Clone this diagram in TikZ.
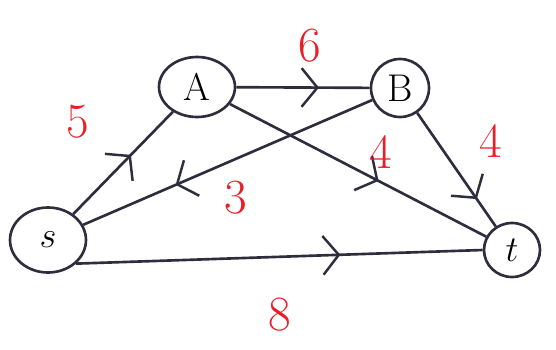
\documentclass[tikz,border=0pt]{standalone}
\usepackage{amsmath}
\usepackage{tikz}
\usetikzlibrary{positioning,shapes.geometric,arrows.meta,decorations.markings}

\definecolor{ink}{RGB}{45,45,62}
\definecolor{pen}{RGB}{232,30,40}

\begin{document}
\begin{tikzpicture}[x=1cm,y=1cm,
		vertex/.style={draw=ink, line width=1.5pt, ellipse, inner sep=0pt, font=\fontsize{22}{24}\selectfont},
		flow/.style={draw=ink, line width=1.5pt, postaction={decorate},
			decoration={markings, mark=at position #1 with {\arrow[ink, line width=1.4pt]{Straight Barb[length=9pt, width=22pt]}}}},
		flow/.default=0.55,
		weight/.style={text=pen, font=\fontsize{28}{30}\selectfont}]
				\useasboundingbox (0,0) rectangle (11.12,-6.98);
				\node[vertex, minimum width=1.52cm, minimum height=1.3cm] (s) at (0.96, -4.8) {$s$};
				\node[vertex, minimum width=1.52cm, minimum height=1.2cm] (a) at (3.94, -1.74) {A};
				\node[vertex, minimum width=1.16cm, minimum height=1.16cm] (b) at (8.0, -1.76) {B};
				\node[vertex, minimum width=1.12cm, minimum height=1.08cm] (t) at (10.24, -5.0) {$t$};
				\draw[flow=0.58] (s) -- (a);
				\draw[flow=0.62] (a) -- (b);
				\draw[flow=0.68] (b) -- (s);
				\draw[flow=0.58] (a) -- (t);
				\draw[flow=0.76] (b) -- (t);
				\draw[flow=0.65] (s.-40) -- (t.west);
				\node[weight] (w5) at (1.56, -2.44) {5};
				\node[weight] (w6) at (6.2, -0.92) {6};
				\node[weight] (w3) at (4.72, -3.96) {3};
				\node[weight] (w4a) at (7.62, -3.05) {4};
				\node[weight] (w4b) at (9.82, -2.82) {4};
				\node[weight] (w8) at (5.6, -6.3) {8};
\end{tikzpicture}
\end{document}
